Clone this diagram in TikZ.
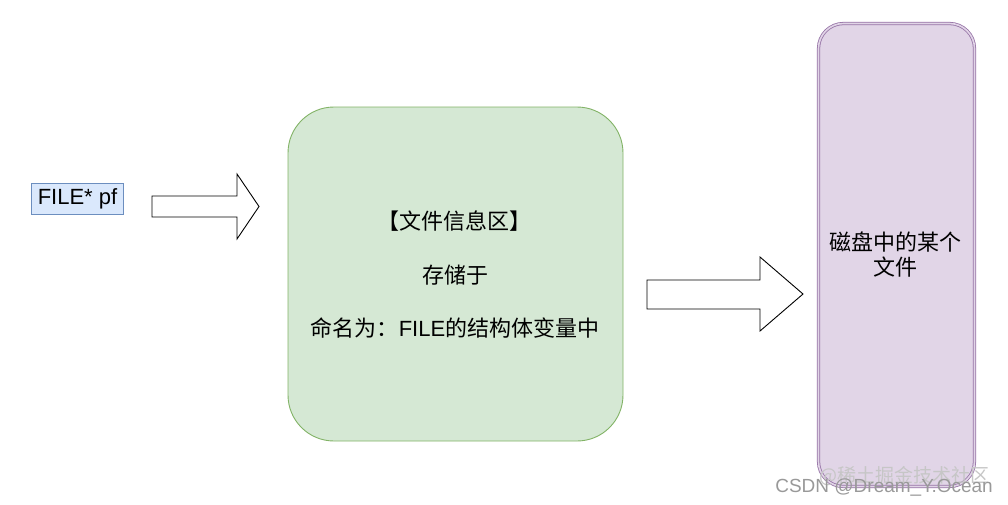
\documentclass[tikz,border=0pt]{standalone}
\usepackage{fontspec}
\setmainfont{Liberation Sans}
\newfontfamily\cjk{Noto Sans CJK SC}
\definecolor{bluefill}{HTML}{DAE8FC}
\definecolor{blueline}{HTML}{6C8EBF}
\definecolor{greenfill}{HTML}{D5E8D4}
\definecolor{greenline}{HTML}{82B366}
\definecolor{purplefill}{HTML}{E1D5E7}
\definecolor{purpleline}{HTML}{9673A6}
\tikzset{
  lbl/.style={inner sep=0pt, font=\fontsize{22}{25}\selectfont, text=black},
  blockarrow/.style={draw=black, fill=white, line width=0.9pt, line join=miter},
  greenbox/.style={draw=greenline, fill=greenfill, line width=0.9pt, rounded corners=46pt, minimum width=335pt, minimum height=334pt, inner sep=0pt},
  purplebox/.style={draw=purpleline, fill=purplefill, line width=0.8pt, double=purplefill, double distance=1.6pt, rounded corners=25pt, minimum width=156pt, minimum height=463pt, inner sep=0pt},
  bluebox/.style={draw=blueline, fill=bluefill, line width=0.8pt, minimum width=92pt, minimum height=31pt, inner sep=0pt},
  wm/.style={inner sep=0pt, font=\fontsize{19}{22}\selectfont}
}
\begin{document}
\begin{tikzpicture}[x=1pt,y=-1pt]
\useasboundingbox (0,0) rectangle (1008,504);
% boxes
\node[bluebox] (fp) at (77,198.5) {};
\node[lbl] (fptext) at (77.5,198.5) {FILE* pf};
\node[greenbox] (info) at (455.5,274) {};
\node[lbl] (t1) at (454,221) {\cjk 【文件信息区】};
\node[lbl] (t2) at (455,275) {\cjk 存储于};
\node[lbl] (t3) at (455,328) {\cjk 命名为：\rmfamily FILE\cjk 的结构体变量中};
\node[purplebox] (disk) at (896.5,255) {};
\node[lbl, align=center] (dtext) at (895,255) {\cjk 磁盘中的某个\\\cjk 文件};
% block arrows
\draw[blockarrow] (152,196) -- (237,196) -- (237,174) -- (259,206.5) -- (237,239) -- (237,217) -- (152,217) -- cycle;
\draw[blockarrow] (647,280) -- (760,280) -- (760,257) -- (803,294) -- (760,331) -- (760,309) -- (647,309) -- cycle;
% watermark
\node[wm, text=gray!45, anchor=east] (wm1) at (990,476) {\cjk @稀土掘金技术社区};
\node[wm, text=gray!80, anchor=east] (wm2) at (993,487) {CSDN @Dream\_Y.Ocean};
\end{tikzpicture}
\end{document}
